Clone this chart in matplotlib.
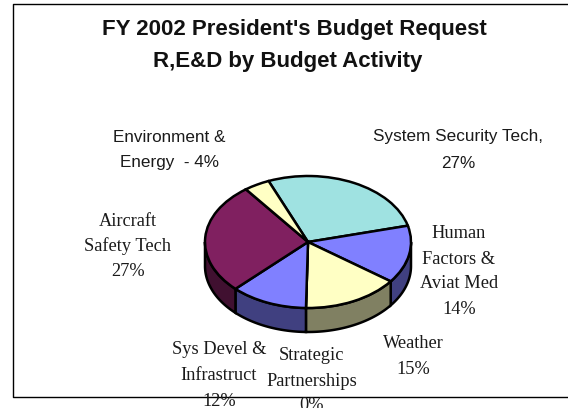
#!/usr/bin/env python3
"""FY 2002 R,E&D budget request by activity, as a tilted pie with a side wall."""

import numpy as np
import matplotlib
matplotlib.use("Agg")
import matplotlib.pyplot as plt

# Budget shares, clockwise from the top-left boundary of System Security Tech.
activities = ["System Security Tech", "Human Factors & Aviat Med", "Weather",
              "Strategic Partnerships", "Sys Devel & Infrastruct",
              "Aircraft Safety Tech", "Environment & Energy"]
shares = [27, 14, 15, 0, 12, 27, 4]
top_colors = ["#9FE2E1", "#8080FF", "#FFFFC4", "#FFFFC4", "#8080FF", "#802060", "#FFFFC4"]
side_colors = ["#50716F", "#404080", "#808062", "#808062", "#404080", "#401030", "#808062"]
title_lines = ["FY 2002 President's Budget Request", "R,E&D by Budget Activity"]

W, H = 568, 408
CX, CY = 308, 242       # pie centre, px
RX, RY = 103, 66        # ellipse radii, px
DEPTH = 24              # wall height, px
START = 22.5            # first boundary, degrees left of vertical
LW = 1.8

fig = plt.figure(figsize=(W / 100, H / 100), dpi=100)
bg = fig.add_axes([0, 0, 1, 1])
bg.set_xlim(0, W)
bg.set_ylim(H, 0)
bg.axis("off")

# Frame runs off the right edge of the page
bg.plot([W + 5, 13, 13, W + 5], [4, 4, 396.5, 396.5], color="black", lw=1.0)

bg.text(294, 29, title_lines[0], ha="center", va="center", fontsize=16,
        family="Liberation Sans", weight="bold", color="#111111")
bg.text(288, 62, title_lines[1], ha="center", va="center", fontsize=16,
        family="Liberation Sans", weight="bold", color="#111111")

# Pie lives in its own axes, stretched so the circle turns into an ellipse
pad = 1.25
ax = fig.add_axes([(CX - pad * RX) / W, 1 - (CY + pad * RY) / H,
                   2 * pad * RX / W, 2 * pad * RY / H])
ax.pie(shares, colors=top_colors, startangle=90 + START, counterclock=False,
       wedgeprops={"edgecolor": "black", "linewidth": LW, "zorder": 3})
ax.set_aspect("auto")
ax.set_xlim(-pad, pad)
ax.set_ylim(-pad, pad)

# Side wall: only the part of each wedge on the front half of the ellipse shows
depth = DEPTH / RY
total = sum(shares)
edges = np.cumsum([0] + shares) / total * 360.0
for i, share in enumerate(shares):
    if share == 0:
        continue
    a0 = 90 + START - edges[i]
    a1 = 90 + START - edges[i + 1]
    lo = max(a1, -180)
    hi = min(a0, 0)
    if hi <= lo:
        continue
    t = np.radians(np.linspace(lo, hi, 60))
    x = np.cos(t)
    y = np.sin(t)
    ax.fill(np.r_[x, x[::-1]], np.r_[y, y[::-1] - depth], facecolor=side_colors[i],
            edgecolor="black", linewidth=LW, zorder=1, clip_on=False)

serif = "Liberation Serif"
sans = "Liberation Sans"

def block(x, ys, lines, family, fs):
    for y, line in zip(ys, lines):
        bg.text(x, y, line, ha="center", va="center", fontsize=fs, family=family,
                color="#1a1a1a", zorder=5, clip_on=True)

block(169, [137, 163], ["Environment &", f"Energy  - {shares[6]}%"], sans, 12.3)
block(458, [137, 163], ["System Security Tech,", f"{shares[0]}%"], sans, 12.3)
block(128, [221, 246, 271], ["Aircraft", "Safety Tech", f"{shares[5]}%"], serif, 13.2)
block(459, [234, 259, 284, 309], ["Human", "Factors &", "Aviat Med", f"{shares[1]}%"], serif, 13.2)
block(413, [344, 369], ["Weather", f"{shares[2]}%"], serif, 13.2)
block(219, [350, 375, 401], ["Sys Devel &", "Infrastruct", f"{shares[4]}%"], serif, 13.2)
block(312, [355, 381, 406], ["Strategic", "Partnerships", f"{shares[3]}%"], serif, 13.2)

fig.savefig("out.png", dpi=100)
